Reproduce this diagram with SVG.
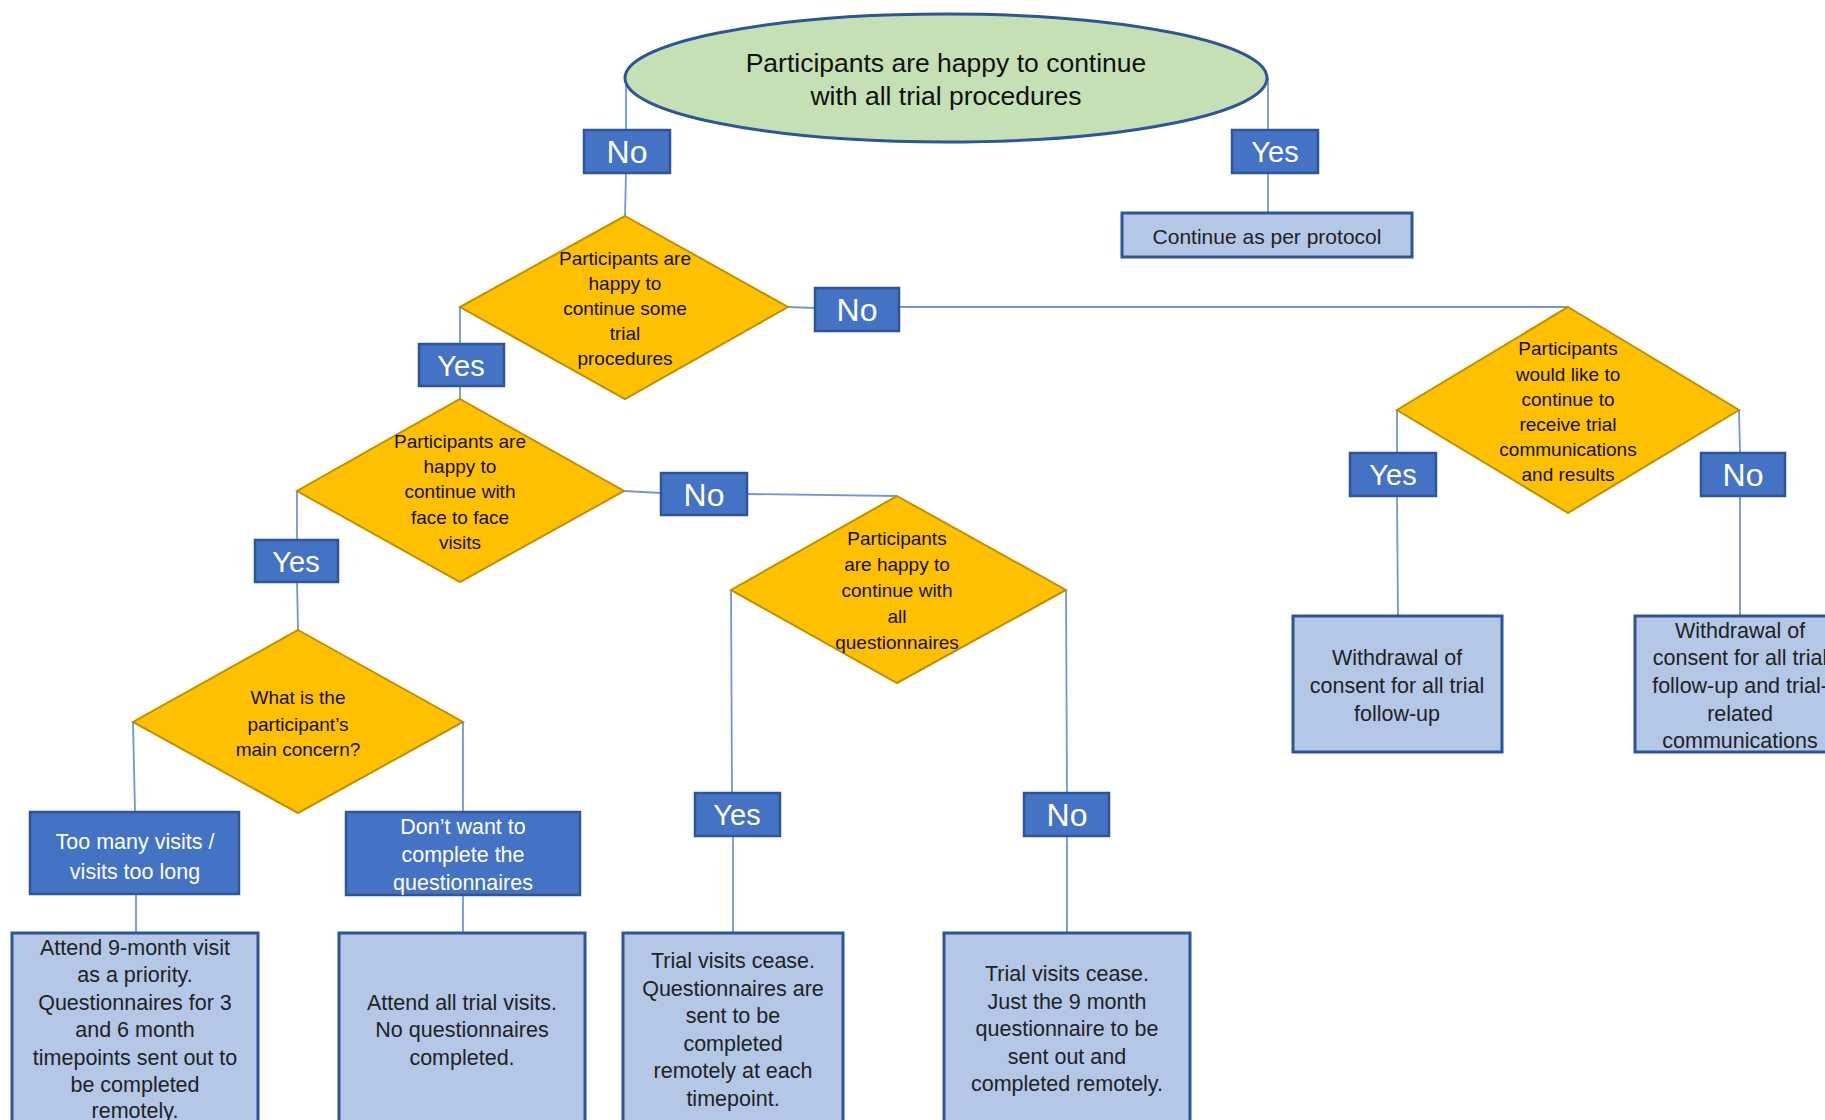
<svg xmlns="http://www.w3.org/2000/svg" width="1825" height="1120" viewBox="0 0 1825 1120">
<style>
text{font-family:"Liberation Sans",Arial,sans-serif;text-anchor:middle}
.con{stroke:#6F98DA;stroke-width:1.8;fill:none}
.dia{fill:#FFC000;stroke:#BF9000;stroke-width:2}
.lbl{fill:#4472C4;stroke:#2F5597;stroke-width:2.5}
.res{fill:#B4C7E7;stroke:#2F5597;stroke-width:3}
.lt{fill:#fff;font-size:32px}
.ly{fill:#fff;font-size:29px}
.bt{fill:#fff;font-size:21.5px}
.dt{fill:#111;font-size:19px}
.rt{fill:#222;font-size:21.5px}
</style>
<rect width="1825" height="1120" fill="#fff"/>
<g id="connectors">
<path class="con" d="M626 78V130M626 173L625 216"/>
<path class="con" d="M1268 78V130M1268 173V213"/>
<path class="con" d="M460 307V344M460 386V399"/>
<path class="con" d="M788 307L815 308M899 307H1568"/>
<path class="con" d="M297 491V540M297 582L298 630"/>
<path class="con" d="M624 491L661 493M747 494L897 496"/>
<path class="con" d="M731 590L732 793M733 836V933"/>
<path class="con" d="M1066 590L1067 793M1067 836V933"/>
<path class="con" d="M133 722L135 812M136 894V933"/>
<path class="con" d="M463 722V812M463 895V933"/>
<path class="con" d="M1397 410V453M1397 496L1398 616"/>
<path class="con" d="M1739 410L1740 453M1740 496V616"/>
</g>
<g id="start">
<ellipse cx="946" cy="78" rx="321" ry="64" fill="#C5E0B4" stroke="#2F5597" stroke-width="3"/>
<text x="946" y="72" font-size="26.5" fill="#111">Participants are happy to continue</text>
<text x="946" y="105" font-size="26.5" fill="#111">with all trial procedures</text>
</g>
<g id="lbl-no-1"><rect class="lbl" x="584" y="130" width="86" height="43"/><text class="lt" x="627" y="163">No</text></g>
<g id="lbl-yes-1"><rect class="lbl" x="1232" y="130" width="86" height="43"/><text class="ly" x="1275" y="162">Yes</text></g>
<g id="continue"><rect class="res" x="1122" y="213" width="290" height="44"/><text x="1267" y="244" font-size="21" fill="#222">Continue as per protocol</text></g>
<g id="d-some">
<polygon class="dia" points="625,216 788,307 625,399 460,307"/>
<text class="dt" x="625" y="265">Participants are</text>
<text class="dt" x="625" y="290">happy to</text>
<text class="dt" x="625" y="315">continue some</text>
<text class="dt" x="625" y="340">trial</text>
<text class="dt" x="625" y="365">procedures</text>
</g>
<g id="lbl-no-2"><rect class="lbl" x="815" y="288" width="84" height="43"/><text class="lt" x="857" y="321">No</text></g>
<g id="lbl-yes-2"><rect class="lbl" x="419" y="344" width="85" height="42"/><text class="ly" x="461" y="376">Yes</text></g>
<g id="d-face">
<polygon class="dia" points="460,399 624,491 460,582 297,491"/>
<text class="dt" x="460" y="448">Participants are</text>
<text class="dt" x="460" y="473">happy to</text>
<text class="dt" x="460" y="498">continue with</text>
<text class="dt" x="460" y="524">face to face</text>
<text class="dt" x="460" y="549">visits</text>
</g>
<g id="lbl-no-3"><rect class="lbl" x="661" y="473" width="86" height="42"/><text class="lt" x="704" y="506">No</text></g>
<g id="lbl-yes-3"><rect class="lbl" x="255" y="540" width="83" height="42"/><text class="ly" x="296" y="572">Yes</text></g>
<g id="d-quest">
<polygon class="dia" points="897,496 1066,590 897,683 731,590"/>
<text class="dt" x="897" y="545" font-size="20.5">Participants</text>
<text class="dt" x="897" y="571" font-size="20.5">are happy to</text>
<text class="dt" x="897" y="597" font-size="20.5">continue with</text>
<text class="dt" x="897" y="623" font-size="20.5">all</text>
<text class="dt" x="897" y="649" font-size="20.5">questionnaires</text>
</g>
<g id="d-concern">
<polygon class="dia" points="298,630 463,722 298,813 133,722"/>
<text class="dt" x="298" y="704" font-size="20">What is the</text>
<text class="dt" x="298" y="731" font-size="20">participant’s</text>
<text class="dt" x="298" y="756" font-size="20">main concern?</text>
</g>
<g id="b-visits"><rect class="lbl" x="30" y="812" width="209" height="82"/>
<text class="bt" x="135" y="849">Too many visits /</text>
<text class="bt" x="135" y="879">visits too long</text></g>
<g id="b-quest"><rect class="lbl" x="346" y="812" width="234" height="83"/>
<text class="bt" x="463" y="834">Don’t want to</text>
<text class="bt" x="463" y="862">complete the</text>
<text class="bt" x="463" y="890">questionnaires</text></g>
<g id="r-attend9"><rect class="res" x="12" y="933" width="246" height="200"/>
<text class="rt" x="135" y="955">Attend 9-month visit</text>
<text class="rt" x="135" y="982">as a priority.</text>
<text class="rt" x="135" y="1010">Questionnaires for 3</text>
<text class="rt" x="135" y="1037">and 6 month</text>
<text class="rt" x="135" y="1065">timepoints sent out to</text>
<text class="rt" x="135" y="1092">be completed</text>
<text class="rt" x="135" y="1118">remotely.</text></g>
<g id="r-attendall"><rect class="res" x="339" y="933" width="246" height="200"/>
<text class="rt" x="462" y="1010">Attend all trial visits.</text>
<text class="rt" x="462" y="1037">No questionnaires</text>
<text class="rt" x="462" y="1065">completed.</text></g>
<g id="lbl-yes-4"><rect class="lbl" x="695" y="793" width="85" height="43"/><text class="ly" x="737" y="825">Yes</text></g>
<g id="lbl-no-4"><rect class="lbl" x="1024" y="793" width="85" height="43"/><text class="lt" x="1067" y="826">No</text></g>
<g id="r-cease1"><rect class="res" x="623" y="933" width="220" height="200"/>
<text class="rt" x="733" y="968">Trial visits cease.</text>
<text class="rt" x="733" y="996">Questionnaires are</text>
<text class="rt" x="733" y="1023">sent to be</text>
<text class="rt" x="733" y="1051">completed</text>
<text class="rt" x="733" y="1078">remotely at each</text>
<text class="rt" x="733" y="1106">timepoint.</text></g>
<g id="r-cease2"><rect class="res" x="944" y="933" width="246" height="200"/>
<text class="rt" x="1067" y="981">Trial visits cease.</text>
<text class="rt" x="1067" y="1009">Just the 9 month</text>
<text class="rt" x="1067" y="1036">questionnaire to be</text>
<text class="rt" x="1067" y="1064">sent out and</text>
<text class="rt" x="1067" y="1091">completed remotely.</text></g>
<g id="d-comms">
<polygon class="dia" points="1568,307 1739,410 1568,513 1397,410"/>
<text class="dt" x="1568" y="355">Participants</text>
<text class="dt" x="1568" y="381">would like to</text>
<text class="dt" x="1568" y="406">continue to</text>
<text class="dt" x="1568" y="431">receive trial</text>
<text class="dt" x="1568" y="456">communications</text>
<text class="dt" x="1568" y="481">and results</text>
</g>
<g id="lbl-yes-5"><rect class="lbl" x="1350" y="453" width="86" height="43"/><text class="ly" x="1393" y="485">Yes</text></g>
<g id="lbl-no-5"><rect class="lbl" x="1701" y="453" width="84" height="43"/><text class="lt" x="1743" y="486">No</text></g>
<g id="r-withdraw1"><rect class="res" x="1293" y="616" width="209" height="136"/>
<text class="rt" x="1397" y="665">Withdrawal of</text>
<text class="rt" x="1397" y="693">consent for all trial</text>
<text class="rt" x="1397" y="721">follow-up</text></g>
<g id="r-withdraw2"><rect class="res" x="1635" y="616" width="210" height="136"/>
<text class="rt" x="1740" y="638">Withdrawal of</text>
<text class="rt" x="1740" y="665">consent for all trial</text>
<text class="rt" x="1740" y="693">follow-up and trial-</text>
<text class="rt" x="1740" y="721">related</text>
<text class="rt" x="1740" y="748">communications</text></g>
</svg>
